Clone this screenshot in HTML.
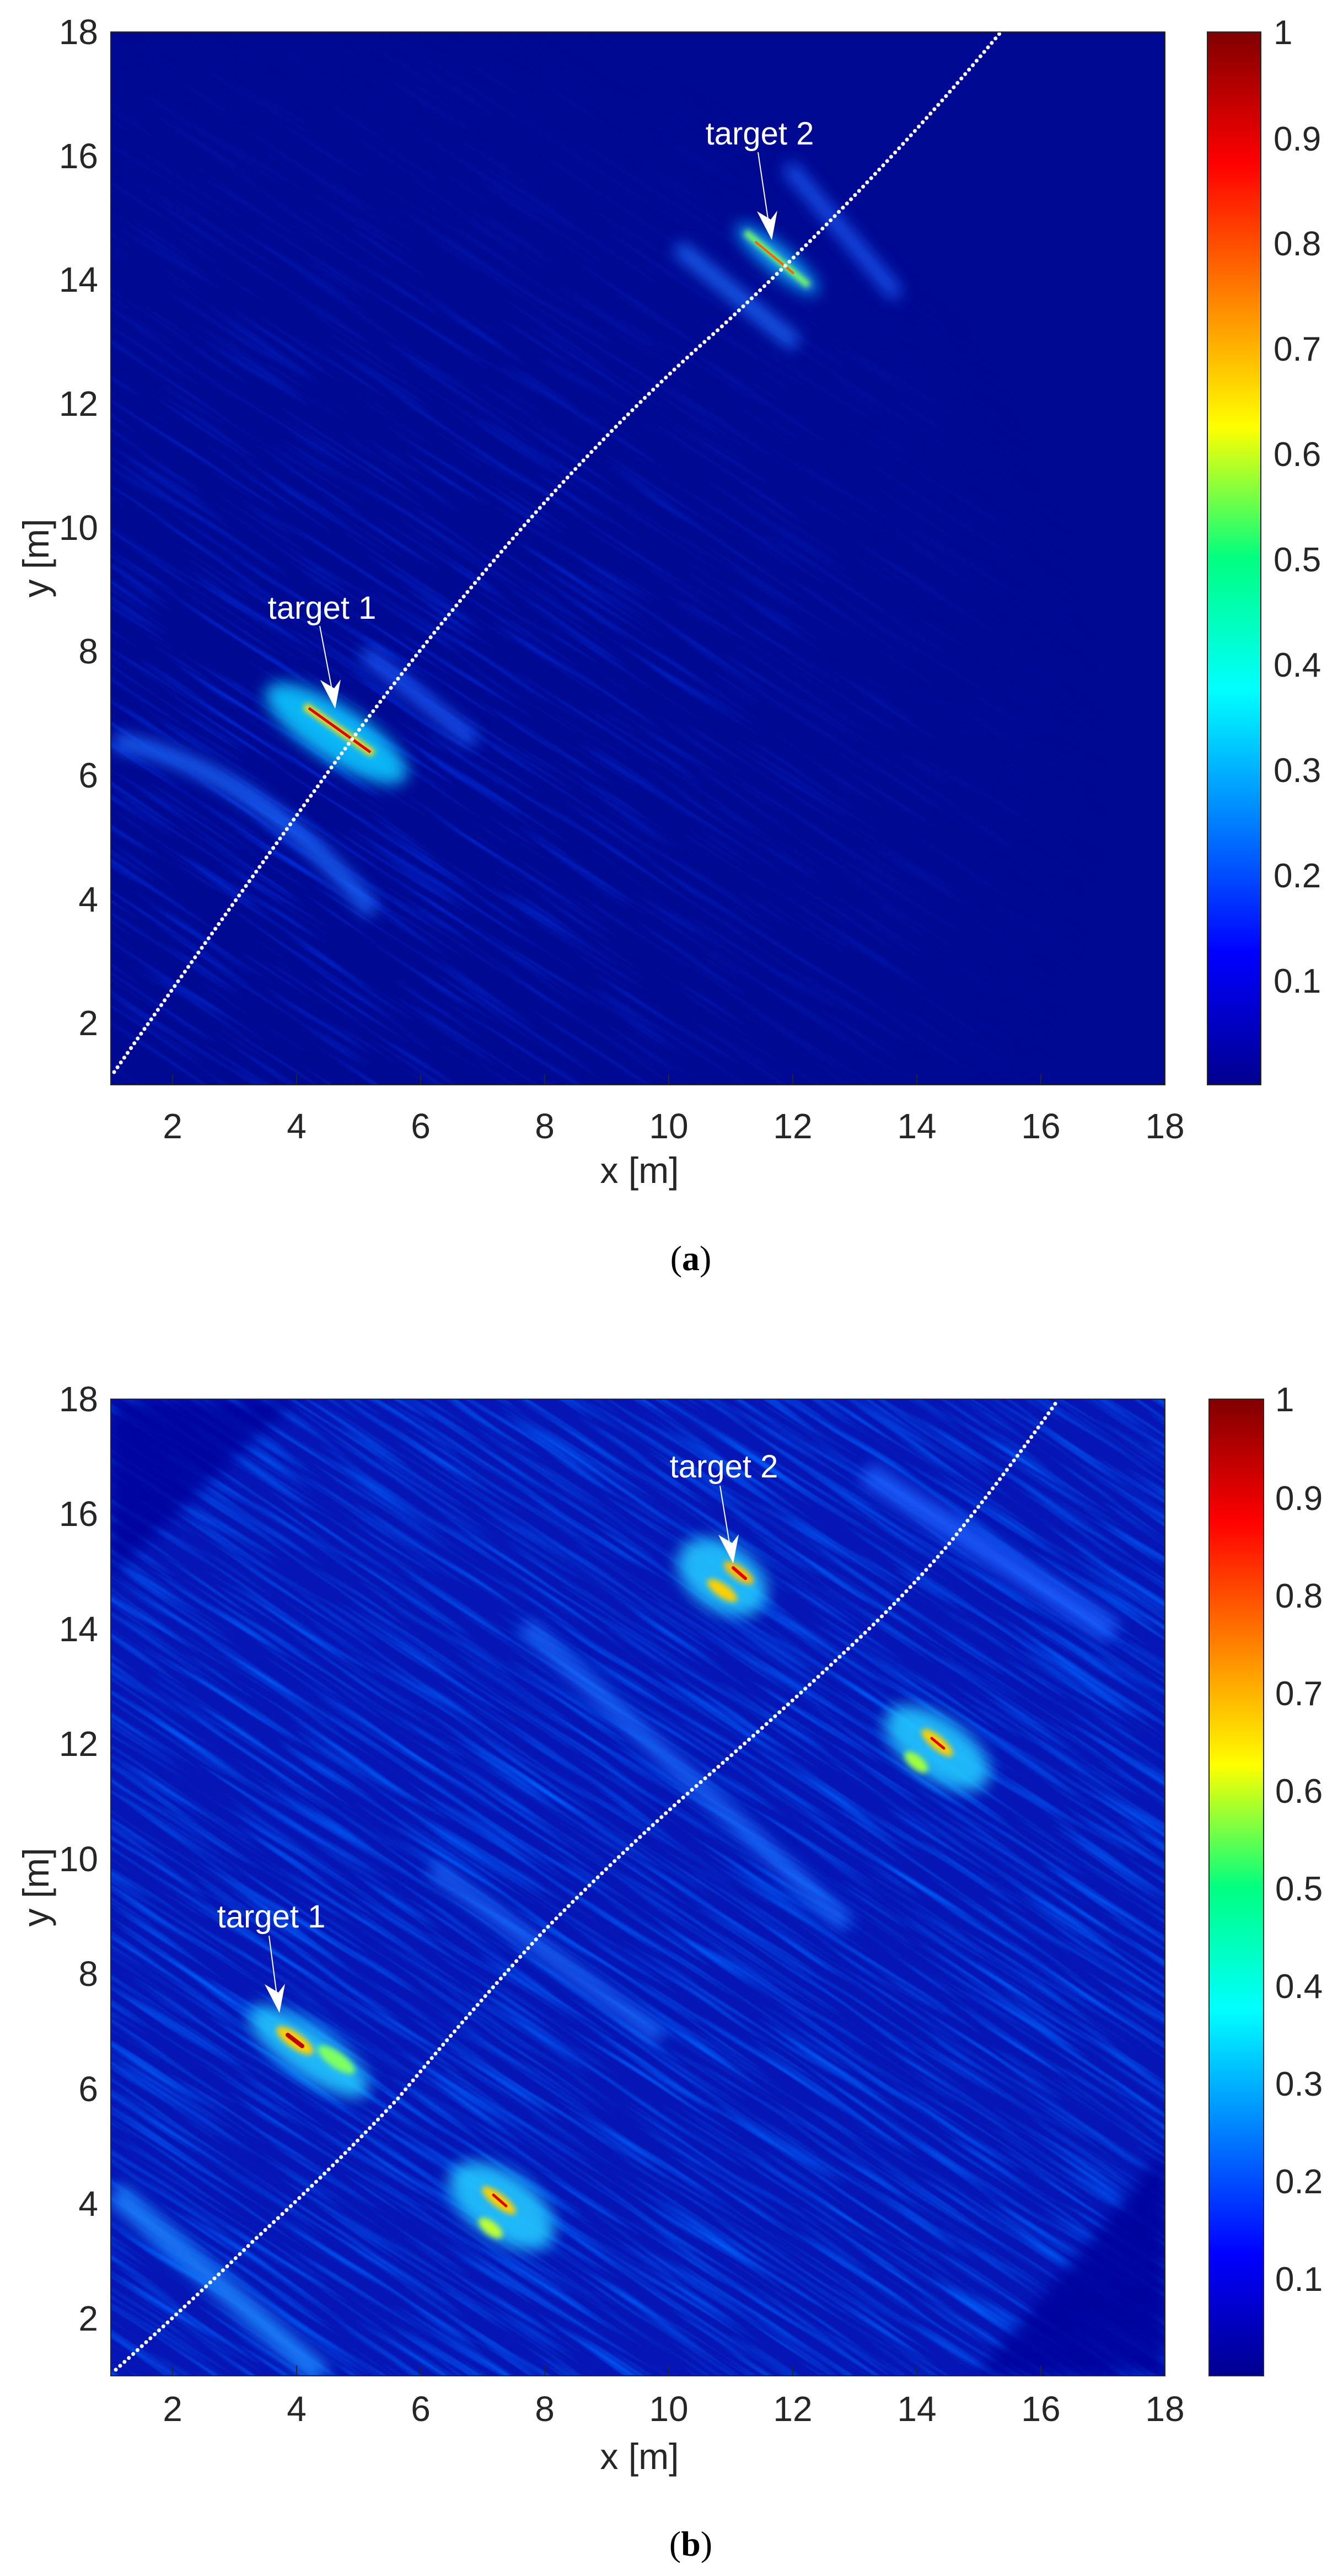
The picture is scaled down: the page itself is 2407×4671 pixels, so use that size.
<!DOCTYPE html>
<html><head><meta charset="utf-8"><style>
html,body{margin:0;padding:0;background:#fff;width:2407px;height:4671px;overflow:hidden}
svg{display:block;overflow:hidden}
text{font-family:"Liberation Sans",Arial,sans-serif;fill:#262626}
</style></head><body>
<svg width="2407" height="4671" viewBox="0 0 2407 4671" overflow="hidden" xmlns="http://www.w3.org/2000/svg">
<defs>
<linearGradient id="jet" x1="0" y1="1" x2="0" y2="0">
<stop offset="0" stop-color="#00008f"/><stop offset="0.125" stop-color="#0000ff"/>
<stop offset="0.375" stop-color="#00ffff"/><stop offset="0.5" stop-color="#00ff80"/><stop offset="0.625" stop-color="#ffff00"/>
<stop offset="0.875" stop-color="#ff0000"/><stop offset="1" stop-color="#800000"/>
</linearGradient>
<filter id="noiseA" x="0" y="0" width="1" height="1">
<feTurbulence type="fractalNoise" baseFrequency="0.004 0.09" numOctaves="2" seed="3"/>
<feColorMatrix values="0 0 0 0 0  0 0 0 0 0.05  0 0 0 0 1  1.8 0 0 0 -0.9"/>
</filter>
<filter id="noiseB" x="0" y="0" width="1" height="1">
<feTurbulence type="fractalNoise" baseFrequency="0.004 0.08" numOctaves="2" seed="7"/>
<feColorMatrix values="0 0 0 0 0  0 0 0 0 0.12  0 0 0 0 1  2 0 0 0 -0.9"/>
</filter>
<filter id="bl" x="-50%" y="-50%" width="200%" height="200%"><feGaussianBlur stdDeviation="14"/></filter>
<filter id="bs" x="-50%" y="-50%" width="200%" height="200%"><feGaussianBlur stdDeviation="5"/></filter>
<clipPath id="ca"><rect x="201" y="58" width="1912" height="1909"/></clipPath>
<clipPath id="cb"><rect x="201" y="2537" width="1912" height="1771"/></clipPath>
<radialGradient id="fadeA" cx="0.2" cy="0.7" r="0.75"><stop offset="0" stop-color="#fff" stop-opacity="1"/><stop offset="0.6" stop-color="#fff" stop-opacity="0.35"/><stop offset="1" stop-color="#fff" stop-opacity="0"/></radialGradient>
<mask id="mA"><rect x="201" y="58" width="1912" height="1909" fill="url(#fadeA)"/></mask>
</defs>

<g clip-path="url(#ca)">
<rect x="201" y="58" width="1912" height="1909" fill="#000992"/>
<g mask="url(#mA)"><g transform="rotate(33 1157 1012)"><rect x="-300" y="-500" width="3000" height="3000" filter="url(#noiseA)"/></g></g>
<g filter="url(#bl)" opacity="0.9">
<path d="M207 1344 Q460 1390 676 1653" stroke="#1e6cff" stroke-width="30" fill="none"/>
<line x1="660" y1="1183" x2="860" y2="1344" stroke="#1e60ff" stroke-width="26"/>
<line x1="1229" y1="448" x2="1444" y2="624" stroke="#1e70ff" stroke-width="26"/>
<line x1="1429" y1="301" x2="1628" y2="536" stroke="#1e60ff" stroke-width="24"/>
<ellipse cx="610" cy="1330" rx="150" ry="50" transform="rotate(33 610 1330)" fill="#10c8ff"/>
<ellipse cx="1410" cy="470" rx="95" ry="24" transform="rotate(40 1410 470)" fill="#10a8ff"/>
</g>
<g filter="url(#bs)">
<line x1="553" y1="1280" x2="677" y2="1367" stroke="#ffe000" stroke-width="14"/>
<line x1="1352" y1="421" x2="1467" y2="518" stroke="#80ff60" stroke-width="12"/>
</g>
<line x1="560" y1="1284" x2="672" y2="1364" stroke="#e00000" stroke-width="5"/>
<line x1="1370" y1="438" x2="1440" y2="496" stroke="#ff6000" stroke-width="4"/>
<path d="M207 1944 Q420 1640 630 1352 Q980 880 1306 595 Q1580 340 1813 61" stroke="#fff" stroke-width="7" stroke-linecap="round" stroke-dasharray="0.1 10.5" fill="none"/>
</g>
<rect x="201" y="58" width="1912" height="1909" fill="none" stroke="#262626" stroke-width="2"/>
<g stroke="#262626" stroke-width="2">
<line x1="313" y1="1967" x2="313" y2="1948"/><line x1="538" y1="1967" x2="538" y2="1948"/><line x1="763" y1="1967" x2="763" y2="1948"/><line x1="988" y1="1967" x2="988" y2="1948"/><line x1="1213" y1="1967" x2="1213" y2="1948"/><line x1="1438" y1="1967" x2="1438" y2="1948"/><line x1="1663" y1="1967" x2="1663" y2="1948"/><line x1="1888" y1="1967" x2="1888" y2="1948"/>
</g>
<text x="584" y="1122" font-size="58" text-anchor="middle" style="fill:#fff">target 1</text>
<line x1="580" y1="1135" x2="604" y2="1260" stroke="#fff" stroke-width="2"/>
<path d="M608 1285 L581 1233 L606 1248 L618 1232 Z" fill="#fff"/>
<text x="1378" y="262" font-size="58" text-anchor="middle" style="fill:#fff">target 2</text>
<line x1="1375" y1="276" x2="1395" y2="410" stroke="#fff" stroke-width="2"/>
<path d="M1400 435 L1373 383 L1398 398 L1410 382 Z" fill="#fff"/>
<g font-size="64" text-anchor="middle">
<text x="313" y="2064">2</text><text x="538" y="2064">4</text><text x="763" y="2064">6</text><text x="988" y="2064">8</text><text x="1213" y="2064">10</text><text x="1438" y="2064">12</text><text x="1663" y="2064">14</text><text x="1888" y="2064">16</text><text x="2113" y="2064">18</text>
</g>
<g font-size="64" text-anchor="end">
<text x="178" y="80">18</text><text x="178" y="305">16</text><text x="178" y="529">14</text><text x="178" y="754">12</text><text x="178" y="979">10</text><text x="178" y="1203">8</text><text x="178" y="1428">6</text><text x="178" y="1653">4</text><text x="178" y="1877">2</text>
</g>
<text x="1160" y="2145" font-size="66" text-anchor="middle">x [m]</text>
<text transform="translate(88 1012) rotate(-90)" font-size="66" text-anchor="middle">y [m]</text>
<text x="1253" y="2303" font-size="64" text-anchor="middle" style="font-family:'Liberation Serif',serif;fill:#000">(<tspan font-weight="bold">a</tspan>)</text>
<rect x="2190" y="58" width="97" height="1909" fill="url(#jet)" stroke="#262626" stroke-width="2"/>
<g font-size="62">
<text x="2310" y="80">1</text><text x="2310" y="273">0.9</text><text x="2310" y="463">0.8</text><text x="2310" y="654">0.7</text><text x="2310" y="845">0.6</text><text x="2310" y="1036">0.5</text><text x="2310" y="1227">0.4</text><text x="2310" y="1418">0.3</text><text x="2310" y="1609">0.2</text><text x="2310" y="1800">0.1</text>
</g>

<g clip-path="url(#cb)">
<rect x="201" y="2537" width="1912" height="1771" fill="#0516b4"/>
<g transform="rotate(33 1157 3422)"><rect x="-300" y="1900" width="3000" height="3000" filter="url(#noiseB)"/></g>
<polygon points="201,2537 540,2537 201,2860" fill="#00069a" opacity="0.8" filter="url(#bl)"/>
<polygon points="1770,4308 2113,3900 2113,4308" fill="#00069a" opacity="0.85" filter="url(#bl)"/>
<g filter="url(#bl)" opacity="0.9">
<line x1="952" y1="2948" x2="1536" y2="3490" stroke="#1e70ff" stroke-width="28"/>
<line x1="783" y1="3387" x2="1198" y2="3695" stroke="#1e70ff" stroke-width="26"/>
<line x1="207" y1="3974" x2="584" y2="4308" stroke="#1e88ff" stroke-width="40"/>
<line x1="1570" y1="2670" x2="2020" y2="2960" stroke="#1e60ff" stroke-width="40"/>
<ellipse cx="560" cy="3720" rx="130" ry="45" transform="rotate(35 560 3720)" fill="#20c8ff"/>
<ellipse cx="1310" cy="2860" rx="90" ry="60" transform="rotate(35 1310 2860)" fill="#20c8ff"/>
<ellipse cx="1700" cy="3170" rx="110" ry="55" transform="rotate(35 1700 3170)" fill="#20c8ff"/>
<ellipse cx="910" cy="4000" rx="110" ry="60" transform="rotate(35 910 4000)" fill="#20c8ff"/>
</g>
<g filter="url(#bs)">
<ellipse cx="535" cy="3700" rx="40" ry="14" transform="rotate(35 535 3700)" fill="#ffd000"/>
<ellipse cx="610" cy="3735" rx="40" ry="14" transform="rotate(35 610 3735)" fill="#80ff60"/>
<ellipse cx="1340" cy="2852" rx="32" ry="12" transform="rotate(35 1340 2852)" fill="#ffc000"/>
<ellipse cx="1310" cy="2884" rx="32" ry="12" transform="rotate(35 1310 2884)" fill="#ffd000"/>
<ellipse cx="1700" cy="3160" rx="36" ry="12" transform="rotate(40 1700 3160)" fill="#ffd000"/>
<ellipse cx="1662" cy="3195" rx="26" ry="12" transform="rotate(40 1662 3195)" fill="#a0ff40"/>
<ellipse cx="905" cy="3990" rx="38" ry="12" transform="rotate(38 905 3990)" fill="#ffd000"/>
<ellipse cx="890" cy="4040" rx="26" ry="12" transform="rotate(38 890 4040)" fill="#c0ff30"/>
</g>
<line x1="522" y1="3690" x2="548" y2="3710" stroke="#c00000" stroke-width="8" stroke-linecap="round"/>
<line x1="1330" y1="2843" x2="1352" y2="2862" stroke="#e00000" stroke-width="6" stroke-linecap="round"/>
<line x1="1690" y1="3152" x2="1712" y2="3170" stroke="#e00000" stroke-width="5" stroke-linecap="round"/>
<line x1="895" y1="3980" x2="918" y2="4000" stroke="#e00000" stroke-width="5" stroke-linecap="round"/>
<path d="M210 4297 Q340 4180 461 4062 Q600 3935 722 3805 Q850 3650 983 3505 Q1110 3375 1244 3255 Q1400 3120 1536 2992 Q1640 2895 1720 2801 Q1830 2665 1920 2537" stroke="#fff" stroke-width="7" stroke-linecap="round" stroke-dasharray="0.1 10.5" fill="none"/>
</g>
<rect x="201" y="2537" width="1912" height="1771" fill="none" stroke="#262626" stroke-width="2"/>
<g stroke="#262626" stroke-width="2">
<line x1="313" y1="4308" x2="313" y2="4289"/><line x1="538" y1="4308" x2="538" y2="4289"/><line x1="763" y1="4308" x2="763" y2="4289"/><line x1="988" y1="4308" x2="988" y2="4289"/><line x1="1213" y1="4308" x2="1213" y2="4289"/><line x1="1438" y1="4308" x2="1438" y2="4289"/><line x1="1663" y1="4308" x2="1663" y2="4289"/><line x1="1888" y1="4308" x2="1888" y2="4289"/>
</g>
<text x="492" y="3495" font-size="58" text-anchor="middle" style="fill:#fff">target 1</text>
<line x1="488" y1="3510" x2="503" y2="3625" stroke="#fff" stroke-width="2"/>
<path d="M507 3650 L480 3598 L505 3613 L517 3597 Z" fill="#fff"/>
<text x="1313" y="2679" font-size="58" text-anchor="middle" style="fill:#fff">target 2</text>
<line x1="1306" y1="2694" x2="1325" y2="2810" stroke="#fff" stroke-width="2"/>
<path d="M1330 2835 L1303 2783 L1328 2798 L1340 2782 Z" fill="#fff"/>
<g font-size="64" text-anchor="middle">
<text x="313" y="4390">2</text><text x="538" y="4390">4</text><text x="763" y="4390">6</text><text x="988" y="4390">8</text><text x="1213" y="4390">10</text><text x="1438" y="4390">12</text><text x="1663" y="4390">14</text><text x="1888" y="4390">16</text><text x="2113" y="4390">18</text>
</g>
<g font-size="64" text-anchor="end">
<text x="178" y="2559">18</text><text x="178" y="2767">16</text><text x="178" y="2976">14</text><text x="178" y="3184">12</text><text x="178" y="3393">10</text><text x="178" y="3601">8</text><text x="178" y="3810">6</text><text x="178" y="4018">4</text><text x="178" y="4226">2</text>
</g>
<text x="1160" y="4477" font-size="66" text-anchor="middle">x [m]</text>
<text transform="translate(88 3422) rotate(-90)" font-size="66" text-anchor="middle">y [m]</text>
<text x="1253" y="4634" font-size="64" text-anchor="middle" style="font-family:'Liberation Serif',serif;fill:#000">(<tspan font-weight="bold">b</tspan>)</text>
<rect x="2193" y="2537" width="99" height="1771" fill="url(#jet)" stroke="#262626" stroke-width="2"/>
<g font-size="62">
<text x="2313" y="2559">1</text><text x="2313" y="2738">0.9</text><text x="2313" y="2915">0.8</text><text x="2313" y="3092">0.7</text><text x="2313" y="3269">0.6</text><text x="2313" y="3446">0.5</text><text x="2313" y="3623">0.4</text><text x="2313" y="3800">0.3</text><text x="2313" y="3977">0.2</text><text x="2313" y="4154">0.1</text>
</g>
</svg>
</body></html>
